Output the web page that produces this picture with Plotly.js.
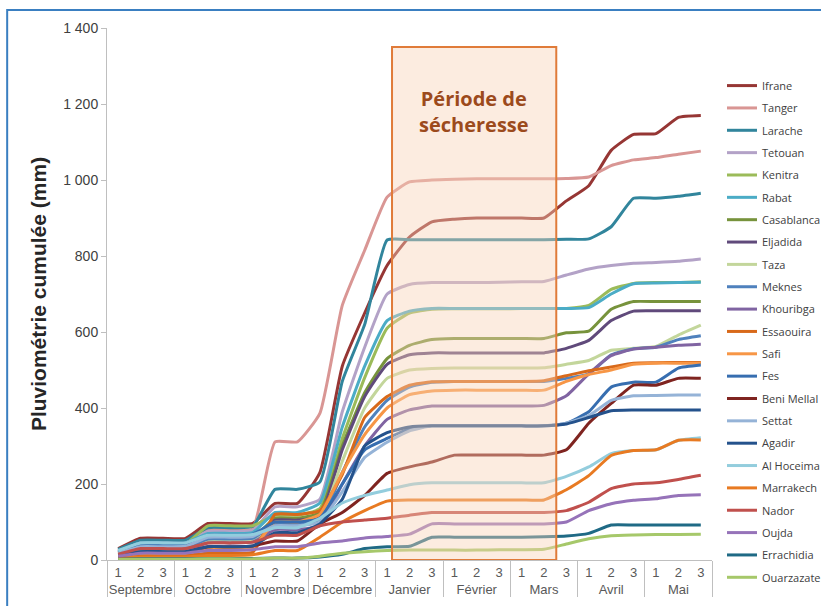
<!DOCTYPE html>
<html>
<head>
<meta charset="utf-8">
<script src="https://cdn.plot.ly/plotly-3.0.1.min.js"></script>
<style>html,body{margin:0;padding:0;background:#fff;}#chart{width:821px;height:606px;}</style>
</head>
<body>
<div id="chart"></div>
<script>
const months = ['Septembre','Octobre','Novembre','Décembre','Janvier','Février','Mars','Avril','Mai'];
const dekads = ['1','2','3'];

const stations = ['Ifrane','Tanger','Larache','Tetouan','Kenitra','Rabat','Casablanca','Eljadida','Taza','Meknes','Khouribga','Essaouira','Safi','Fes','Beni Mellal','Settat','Agadir','Al Hoceima','Marrakech','Nador','Oujda','Errachidia','Ouarzazate'];

const colors = ['#963634','#d99694','#31859c','#b3a2c7','#9bbb59','#4bacc6','#77933c','#604a7b','#c3d69b','#4f81bd','#8064a2','#d8691a','#f79646','#376eb0','#7f2420','#95b3d7','#24528c','#93cddd','#e87a22','#c0504d','#9673b9','#1f6a85','#a6c86a'];

const Ifrane     = [30,57,57,57,96,96,96,149,149,230,510,650,775,850,890,897,900,900,900,900,945,985,1078,1120,1122,1165,1170];
const Tanger     = [25,50,50,50,80,80,82,311,311,386,670,815,955,995,1000,1002,1003,1003,1003,1003,1004,1008,1038,1053,1059,1068,1076];
const Larache    = [28,52,52,52,85,85,88,186,186,205,470,620,842,843,843,843,843,843,843,843,844,845,877,952,952,957,965];
const Tetouan    = [22,45,45,45,75,75,78,140,140,160,390,560,700,725,730,730,730,731,732,733,750,766,775,781,783,786,792];
const Kenitra    = [20,40,40,42,90,90,90,118,118,135,320,480,610,650,660,661,661,661,662,662,662,670,712,728,730,730,732];
const Rabat      = [22,45,45,45,70,70,72,125,125,150,350,510,630,655,662,662,662,662,662,662,662,664,700,727,729,730,731];
const Casablanca = [15,30,30,30,55,55,57,110,110,125,300,440,530,565,580,583,583,583,583,583,598,602,660,680,680,680,680];
const Eljadida   = [18,32,32,32,50,50,52,105,105,115,290,430,515,540,545,545,545,545,545,545,557,578,630,655,656,656,656];
const Taza       = [12,25,25,28,50,50,52,88,88,105,260,400,478,500,504,505,505,505,505,506,515,525,552,557,562,592,618];
const Meknes     = [14,28,28,30,55,55,57,95,95,100,230,350,420,455,468,470,470,470,470,470,478,490,540,556,560,580,590];
const Khouribga  = [10,20,20,22,45,45,47,80,80,90,200,300,370,395,405,405,405,405,405,407,432,490,538,555,560,565,568];
const Essaouira  = [8,12,12,12,18,18,20,120,120,130,225,375,430,460,469,470,470,470,470,472,485,498,508,518,519,520,520];
const Safi       = [10,18,18,18,30,30,32,100,100,120,230,330,400,435,445,447,447,447,447,447,470,488,500,515,518,518,518];
const Fes        = [20,38,38,40,65,65,68,100,100,110,200,290,320,345,353,353,353,353,353,353,360,390,455,468,468,505,513];
const BeniMellal = [10,20,20,20,35,35,37,50,50,95,125,170,228,245,258,276,276,276,276,276,290,360,412,460,460,478,478];
const Settat     = [18,35,35,36,60,60,62,90,90,100,180,270,310,340,353,353,353,353,353,353,360,380,420,432,433,434,434];
const Agadir     = [12,22,22,22,35,35,37,72,72,95,160,300,335,350,353,353,353,353,353,353,358,375,393,395,395,395,395];
const AlHoceima  = [25,45,45,45,65,65,67,85,85,110,150,170,184,198,203,203,203,203,203,203,220,245,280,288,290,315,322];
const Marrakech  = [5,8,8,8,12,12,14,25,25,60,100,130,155,158,158,158,158,158,158,158,185,222,275,288,290,315,316];
const Nador      = [15,30,30,30,45,45,47,65,65,90,100,105,110,118,125,125,125,125,125,125,130,152,188,200,203,212,223];
const Oujda      = [10,18,18,18,25,25,27,35,35,45,50,58,62,68,95,95,95,95,95,95,100,130,148,157,161,170,172];
const Errachidia = [2,3,3,3,4,4,4,5,5,8,15,30,35,36,60,60,60,60,60,61,63,70,92,92,92,92,92];
const Ouarzazate = [1,2,2,2,3,3,3,5,5,10,18,22,25,26,26,26,26,27,27,28,42,56,64,66,67,67,68];

const series = [Ifrane,Tanger,Larache,Tetouan,Kenitra,Rabat,Casablanca,Eljadida,Taza,Meknes,Khouribga,Essaouira,Safi,Fes,BeniMellal,Settat,Agadir,AlHoceima,Marrakech,Nador,Oujda,Errachidia,Ouarzazate];

// drought period (in dekad index units) and label
const droughtStart = 12.22, droughtEnd = 19.55, droughtTop = 1350;
const droughtLabel = 'Période de<br>sécheresse';

const outer = [], inner = [];
months.forEach(m => dekads.forEach(d => { outer.push(m); inner.push(d); }));

const traces = stations.map((name, i) => ({
  type: 'scatter', mode: 'lines', name: name, legendgroup: 'g' + i,
  x: [outer, inner], y: series[i],
  line: {color: colors[i], width: 3, shape: 'spline', smoothing: 0.45},
  hoverinfo: 'skip'
}));
traces.push({type:'scatter', x:[0,26], y:[0,0], xaxis:'x2', mode:'none', showlegend:false, hoverinfo:'skip'});

const layout = {
  width: 821, height: 606,
  margin: {l: 107, r: 109, t: 28, b: 46, autoexpand: false},
  paper_bgcolor: '#ffffff', plot_bgcolor: '#ffffff',
  font: {family: 'Liberation Sans, Arial, sans-serif', color: '#404040'},
  showlegend: true,
  legend: {
    x: 1.0165, y: 0.919, xanchor: 'left', yanchor: 'top',
    font: {family: 'Open Sans, sans-serif', size: 11, color: '#404040'},
    itemwidth: 30, traceorder: 'grouped', tracegroupgap: 3.35, bgcolor: 'rgba(0,0,0,0)'
  },
  xaxis: {
    type: 'multicategory', range: [-0.5, 26.5],
    showline: true, linecolor: '#bfbfbf', linewidth: 1,
    showgrid: false, zeroline: false,
    tickfont: {size: 13, color: '#595959'},
    showdividers: true, dividercolor: '#bfbfbf', dividerwidth: 1,
    ticks: ''
  },
  xaxis2: {
    overlaying: 'x', range: [-0.5, 26.5], visible: false, fixedrange: true
  },
  yaxis: {
    range: [0, 1400], dtick: 200, tickformat: ',d',
    showline: true, linecolor: '#bfbfbf', linewidth: 1,
    ticks: 'outside', ticklen: 5, tickcolor: '#bfbfbf',
    showgrid: false, zeroline: false,
    tickfont: {size: 14, color: '#404040'},
    title: {text: 'Pluviométrie cumulée (mm)', font: {size: 21, color: '#262626', family: 'Liberation Sans, Arial, sans-serif', weight: 'bold'}, standoff: 10}
  },
  separators: ', ',
  shapes: [
    {type: 'rect', xref: 'x2', yref: 'y', x0: droughtStart, x1: droughtEnd, y0: 0, y1: droughtTop,
     fillcolor: 'rgba(249,210,180,0.42)', line: {color: '#e07b39', width: 2}, layer: 'above'},
    {type: 'rect', xref: 'paper', yref: 'paper', x0: -0.165, x1: 1.3, y0: -0.3, y1: 1.034,
     fillcolor: 'rgba(0,0,0,0)', line: {color: '#3a7fc1', width: 2}, layer: 'above'}
  ],
  annotations: [
    {xref: 'x2', yref: 'y', x: (droughtStart + droughtEnd) / 2, y: 1180, text: droughtLabel,
     showarrow: false, font: {family: 'Open Sans, sans-serif', size: 20, color: '#9c4a1c', weight: 'bold'}, align: 'center'}
  ]
};

Plotly.newPlot('chart', traces, layout, {displayModeBar: false, staticPlot: true});
</script>
</body>
</html>
